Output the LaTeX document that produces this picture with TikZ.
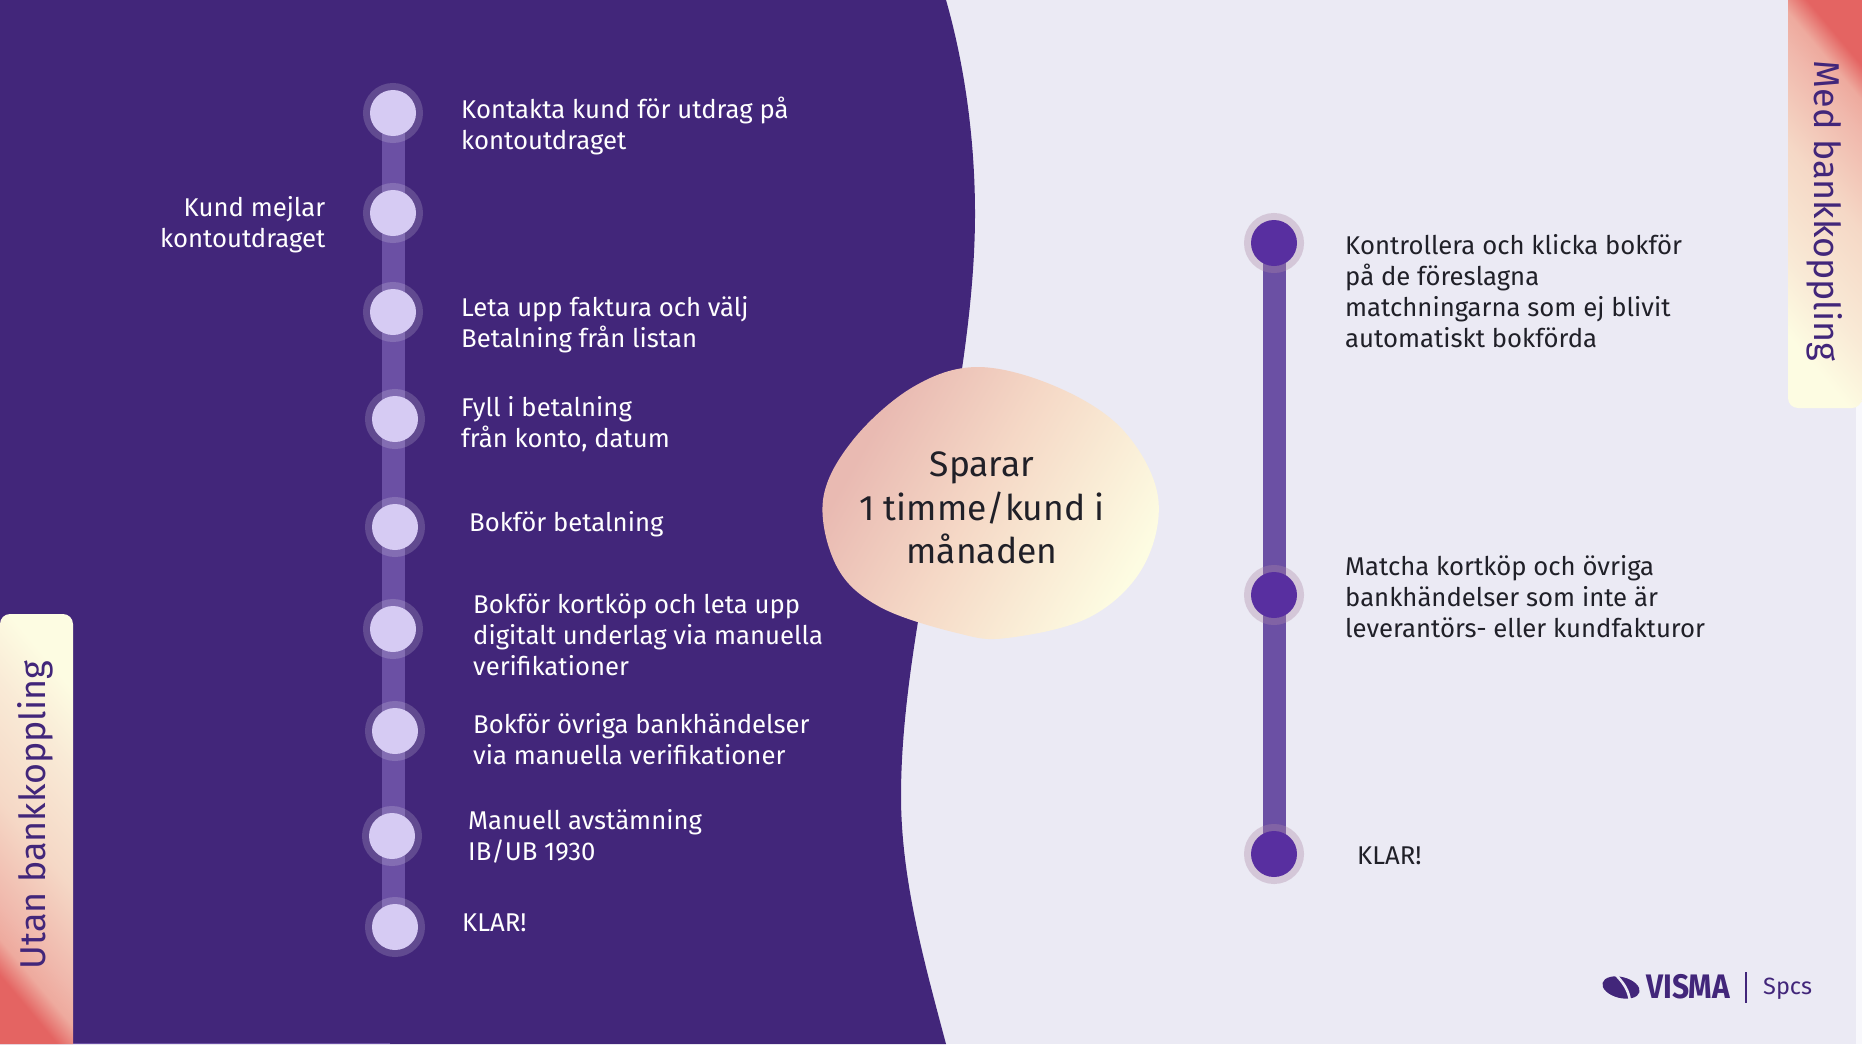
\documentclass[tikz,border=0pt]{standalone}
\usepackage{fontspec}
\setmainfont{Fira Sans}
\usetikzlibrary{positioning}
\usetikzlibrary{backgrounds}
\definecolor{night}{RGB}{66,38,122}
\definecolor{mist}{RGB}{235,234,244}
\definecolor{edge}{RGB}{248,248,252}
\definecolor{track}{RGB}{107,80,164}
\definecolor{pale}{RGB}{214,203,243}
\definecolor{grape}{RGB}{88,47,160}
\definecolor{ink}{RGB}{32,32,40}
\definecolor{cream}{RGB}{253,252,226}
\definecolor{sand}{RGB}{249,234,214}
\definecolor{peach}{RGB}{245,216,198}
\definecolor{rose}{RGB}{240,184,172}
\definecolor{salmon}{RGB}{238,170,158}
\definecolor{coral}{RGB}{228,100,98}
\definecolor{blobpink}{RGB}{233,186,178}
\pgfdeclareverticalshading{tabfade}{100bp}{color(0bp)=(cream); color(25bp)=(cream); color(36bp)=(sand); color(52bp)=(peach); color(66bp)=(rose); color(71bp)=(salmon); color(76bp)=(coral); color(100bp)=(coral)}
\pgfdeclareverticalshading{blobfade}{100bp}{color(0bp)=(cream); color(25bp)=(cream); color(52bp)=(peach); color(72bp)=(blobpink); color(100bp)=(blobpink)}

\begin{document}
\begin{tikzpicture}[x=1pt, y=-1pt,
  dot/.style={circle,inner sep=0pt,outer sep=0pt,minimum size=46pt,fill=pale,
    preaction={draw=white,draw opacity=0.17,line width=14pt}},
  darkdot/.style={dot,fill=grape,
    preaction={draw={rgb,255:red,123;green,66;blue,116},draw opacity=0.22,line width=14pt}},
  line/.style={line width=23pt,draw=track},
  step text/.style={anchor=west,align=left,inner sep=0pt,text=white,font=\fontsize{25.7}{31}\selectfont},
  side text/.style={step text,text=ink},
  tab text/.style={text=night,font=\fontsize{35.9}{43}\selectfont}]
\useasboundingbox (0,0) rectangle (1862,1044);

% left column
\node [dot] (l1) at (393,113) {};
\node [dot] (l2) at (393,213) {};
\node [dot] (l3) at (393,312) {};
\node [dot] (l4) at (395,419) {};
\node [dot] (l5) at (395,527) {};
\node [dot] (l6) at (393,629) {};
\node [dot] (l7) at (395,731) {};
\node [dot] (l8) at (392,836) {};
\node [dot] (l9) at (395,927) {};

\node [step text] (t1) at (461,126) {Kontakta kund för utdrag på\\kontoutdraget};
\node [step text,anchor=east,align=right] (t2) at (325.5,225) {Kund mejlar\\kontoutdraget};
\node [step text] (t3) at (461,325) {Leta upp faktura och välj\\Betalning från listan};
\node [step text] (t4) at (461,424) {Fyll i betalning\\från konto, datum};
\node [step text] (t5) at (469,524) {Bokför betalning};
\node [step text] (t6) at (473,635) {Bokför kortköp och leta upp\\digitalt underlag via manuella\\verifikationer};
\node [step text] (t7) at (473,739) {Bokför övriga bankhändelser\\via manuella verifikationer};
\node [step text] (t8) at (468,836) {Manuell avstämning\\IB/UB 1930};
\node [step text] (t9) at (462,923) {KLAR!};

% right column
\node [darkdot] (r1) at (1274,243) {};
\node [darkdot] (r2) at (1274,595) {};
\node [darkdot] (r3) at (1274,854) {};

\node [side text] (s1) at (1345,291) {Kontrollera och klicka bokför\\på de föreslagna\\matchningarna som ej blivit\\automatiskt bokförda};
\node [side text] (s2) at (1345,597) {Matcha kortköp och övriga\\bankhändelser som inte är\\leverantörs- eller kundfakturor};
\node [side text] (s3) at (1357,856) {KLAR!};

% saving and tabs
\node [text=ink,align=center,font=\fontsize{35.4}{43.5}\selectfont] (saving) at (982,508) {Sparar\\1 timme/kund i\\månaden};
\node [tab text,rotate=-90] (med) at (1825,211) {Med bankkoppling};
\node [tab text,rotate=90] (utan) at (35,815) {Utan bankkoppling};

% logo
\fill [night,rotate around={-14:(1621,987.5)}] (1621,987.5) ellipse (19 and 10.5);
\draw [mist,line width=2.6pt] (1614,973) .. controls (1623,982) and (1629,990) .. (1630,1002);
\node [text=night,font=\fontsize{34}{34}\bfseries\selectfont,xscale=0.88,anchor=west,inner sep=0pt] (visma) at (1646,987) {VISMA};
\coordinate (bar1) at (1746,972);
\coordinate (bar2) at (1746,1003);
\draw [night,line width=1.5pt] (bar1) -- (bar2);
\node [text=night,font=\fontsize{23.5}{24}\selectfont,anchor=west,inner sep=0pt] (spcs) at (1763,989) {Spcs};

\begin{pgfonlayer}{background}
\fill [mist] (0,0) rectangle (1862,1044);
\fill [edge] (1856,400) rectangle (1862,1044);
\fill [night] (0,0) -- (946,0) .. controls (966,70) and (975,145) .. (975,214)
  .. controls (975,400) and (901,620) .. (901,796)
  .. controls (901,880) and (925,965) .. (946,1044) -- (0,1044) -- cycle;
\fill [track] (73,1043) rectangle (390,1044);
\shade [shading=tabfade,shading angle=-50] (1788,0) -- (1788,398) arc (180:90:10) -- (1852,408) arc (90:0:10) -- (1862,0) -- cycle;
\shade [shading=tabfade,shading angle=130] (73,1044) -- (73,624) arc (0:-90:10) -- (10,614) arc (-90:-180:10) -- (0,1044) -- cycle;
\shade [shading=blobfade,shading angle=60] plot [smooth cycle,tension=0.6] coordinates {
  (823,500) (837,567) (880,607) (957,633) (1007,638) (1090,617)
  (1143,567) (1158,497) (1123,430) (1057,387) (978,367) (913,387) (853,440)};
\draw [line] (l1.center) -- (l1.center |- l9.center);
\draw [line] (r1.center) -- (r3.center);
\end{pgfonlayer}
\end{tikzpicture}
\end{document}
